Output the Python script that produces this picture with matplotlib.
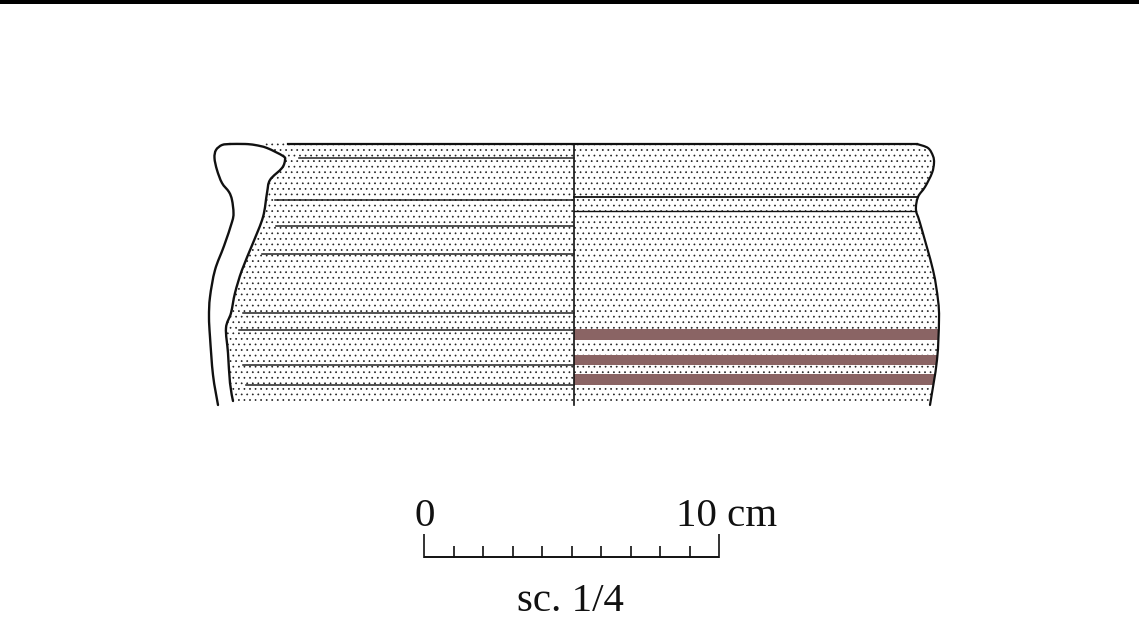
import matplotlib
matplotlib.use("Agg")
import matplotlib.pyplot as plt
from matplotlib.path import Path
from matplotlib.patches import PathPatch

W, H = 1139, 623

# outlines in picture units
outer_x = [230, 222, 216, 214.5, 217, 222, 229, 232, 233.5, 232, 224, 215, 210, 209, 210, 213, 218]
outer_y = [144, 145, 150, 158, 170, 183, 192, 200, 213, 222, 246, 270, 297, 317, 337, 375, 405]
inner_x = [230, 245, 255, 267, 283, 285, 282, 270, 267, 263, 253, 242, 235, 231, 226, 228, 230, 233]
inner_y = [144, 144, 145, 148, 156, 160, 168, 180, 193, 217, 243, 270, 293, 313, 328, 353, 383, 401]
right_x = [574, 917, 928, 933, 934, 932, 925, 918, 916, 920, 933, 938, 939, 937, 930]
right_y = [144, 144, 148, 156, 163, 173, 187, 197, 210, 223, 270, 300, 320, 360, 405]

left_line_y = [158, 200, 226, 254, 313, 330, 365, 385]
left_line_x = [299, 275, 276, 262, 243, 239, 243, 246]
right_line_y = [197, 211]
right_line_x = [918, 916]
band_top = [329, 355, 374]
band_bottom = [340, 365, 385]
band_end = [938, 937, 934]

rim_y = 144
axis_x = 574
base_y = 405
scale_ticks = [424, 453.5, 483, 512.5, 542, 571.5, 601, 630.5, 660, 689.5, 719]

ink = "#111111"
band_color = "#8a6464"

plt.rcParams["hatch.linewidth"] = 0.5
plt.rcParams["font.family"] = ["Liberation Serif"]

fig = plt.figure(figsize=(W / 100, H / 100), dpi=100)
ax = fig.add_axes([0, 0, 1, 1])
ax.set_xlim(0, W)
ax.set_ylim(H, 0)
ax.axis("off")


def smooth(xs, ys):
    """Bezier path through the outline vertices."""
    pts = list(zip(xs, ys))
    verts, codes = [pts[0]], [Path.MOVETO]
    for i in range(len(pts) - 1):
        p0 = pts[max(i - 1, 0)]
        p1, p2 = pts[i], pts[i + 1]
        p3 = pts[min(i + 2, len(pts) - 1)]
        c1 = (p1[0] + (p2[0] - p0[0]) / 6, p1[1] + (p2[1] - p0[1]) / 6)
        c2 = (p2[0] - (p3[0] - p1[0]) / 6, p2[1] - (p3[1] - p1[1]) / 6)
        verts += [c1, c2, p2]
        codes += [Path.CURVE4] * 3
    return Path(verts, codes)


def outline(xs, ys, lw):
    ax.add_patch(PathPatch(smooth(xs, ys), fill=False, edgecolor=ink, lw=lw,
                           capstyle="round", zorder=3))


# top rule
ax.fill_between([0, W], 0, 4, color="black", lw=0)

# stippled surface
left_poly_x = [264, 290] + [axis_x, axis_x] + [240] + [233, 230, 228, 226, 231, 235, 242, 253, 263, 267, 270, 282, 285, 283, 267]
left_poly_y = [143, 143] + [143, 402] + [402] + [399, 383, 353, 328, 313, 293, 270, 243, 217, 193, 180, 168, 160, 156, 148]
ax.fill(left_poly_x, left_poly_y, facecolor="white", edgecolor="#222222", hatch="...", lw=0, zorder=1)
rp_x = right_x + [574]
rp_y = right_y[:-1] + [402, 402]
ax.fill(rp_x, rp_y, facecolor="white", edgecolor="#222222", hatch="...", lw=0, zorder=1)

# bands
for top, bot, end in zip(band_top, band_bottom, band_end):
    ax.fill_between([axis_x, end], top, bot, color=band_color, lw=0, zorder=2)

# outlines
outline(outer_x, outer_y, 1.7)
outline(inner_x, inner_y, 1.7)
outline(right_x[1:], right_y[1:], 1.6)
ax.plot([288, right_x[1]], [rim_y, rim_y], color=ink, lw=1.6, zorder=3)
ax.plot([axis_x, axis_x], [rim_y, base_y], color=ink, lw=1.2, zorder=3)
for y, x in zip(left_line_y, left_line_x):
    ax.plot([x, axis_x], [y, y], color="#222222", lw=1.1, zorder=3)
for y, x in zip(right_line_y, right_line_x):
    ax.plot([axis_x, x], [y, y], color=ink, lw=1.3 if y == 197 else 1.0, zorder=3)

# scale bar
ax.plot([scale_ticks[0], scale_ticks[-1]], [557, 557], color=ink, lw=1.4, solid_capstyle="butt")
for i, x in enumerate(scale_ticks):
    top = 534 if i in (0, len(scale_ticks) - 1) else 546
    ax.plot([x, x], [top, 558], color=ink, lw=1.2, solid_capstyle="butt")

ax.text(414, 526, "0", fontsize=29.5, ha="left", va="baseline", color=ink)
ax.text(676, 526, "10 cm", fontsize=29.5, ha="left", va="baseline", color=ink)
ax.text(517, 611, "sc. 1/4", fontsize=29.5, ha="left", va="baseline", color=ink)

fig.savefig("out.png", dpi=100)
